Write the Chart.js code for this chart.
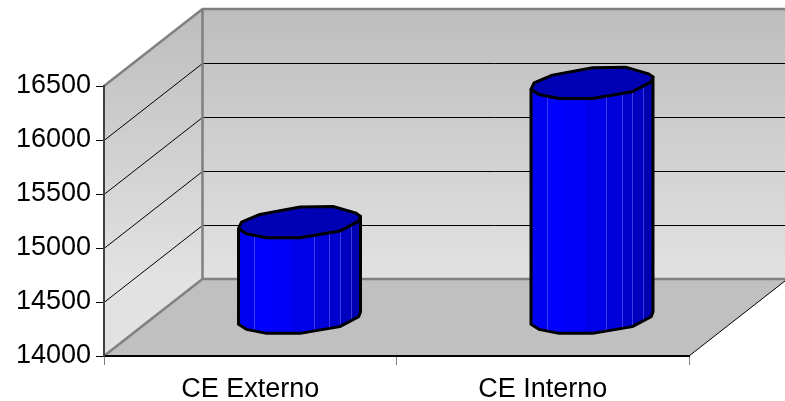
<!DOCTYPE html>
<html>
<head>
<meta charset="utf-8">
<style>
  html, body { margin: 0; padding: 0; background: #fff; }
  canvas { display: block; }
</style>
<script src="https://cdn.jsdelivr.net/npm/chart.js@4/dist/chart.umd.min.js"></script>
</head>
<body>
<canvas id="chart" width="785" height="401"></canvas>
<script>
const categories = ['CE Externo', 'CE Interno'];
const values = [14880, 16170];
const axisMin = 14000;
const axisMax = 16500;
const axisStep = 500;

// box depth of the fake 3D plot
const DEPTH_X = 98.5;
const DEPTH_Y = -77;
const TOP_HALF = 16;

// outline of the cylinder cap, in fractions of half width / half height
const capOutline = [
  [-1, 0.39], [-0.95, -0.02], [-0.65, -0.5], [0.01, -0.96], [0.55, -1], [0.93, -0.58],
  [1, -0.38], [0.97, -0.08], [0.66, 0.54], [0.01, 0.96], [-0.54, 0.96], [-0.87, 0.71]
];
// side facets: right edge in fractions of the bar width, and colour
const facets = [
  [0.13, '#0000f0'], [0.28, '#0000ff'], [0.45, '#0000f6'], [0.62, '#0000e8'],
  [0.75, '#0000d8'], [0.83, '#0000cc'], [0.92, '#0000c0'], [1, '#0000b0']
];

const wallsPlugin = {
  id: 'walls',
  beforeDraw(chart) {
    const { ctx, scales: { x, y } } = chart;
    const l = x.left, r = x.right, b = y.bottom, t = y.top;
    const g = ctx.createLinearGradient(0, t + DEPTH_Y, 0, b + DEPTH_Y);
    g.addColorStop(0, '#bdbdbd');
    g.addColorStop(1, '#e2e2e2');
    ctx.save();

    // floor
    ctx.fillStyle = '#c0c0c0';
    ctx.beginPath();
    ctx.moveTo(l, b);
    ctx.lineTo(l + DEPTH_X, b + DEPTH_Y);
    ctx.lineTo(r + DEPTH_X, b + DEPTH_Y);
    ctx.lineTo(r, b);
    ctx.closePath();
    ctx.fill();

    // back wall and side wall
    ctx.fillStyle = g;
    ctx.fillRect(l + DEPTH_X, t + DEPTH_Y, r - l, b - t);
    ctx.beginPath();
    ctx.moveTo(l, b);
    ctx.lineTo(l, t);
    ctx.lineTo(l + DEPTH_X, t + DEPTH_Y);
    ctx.lineTo(l + DEPTH_X, b + DEPTH_Y);
    ctx.closePath();
    ctx.fill();

    // gridlines on both walls
    ctx.strokeStyle = '#000';
    ctx.lineWidth = 1;
    y.ticks.forEach(tick => {
      if (tick.value === axisMin || tick.value === axisMax) return;
      const py = Math.round(y.getPixelForValue(tick.value)) + 0.5;
      ctx.beginPath();
      ctx.moveTo(l, py);
      ctx.lineTo(l + DEPTH_X, py + DEPTH_Y);
      ctx.lineTo(r + DEPTH_X, py + DEPTH_Y);
      ctx.stroke();
    });

    // wall borders
    ctx.strokeStyle = '#808080';
    ctx.lineWidth = 2.5;
    ctx.beginPath();
    ctx.moveTo(l + DEPTH_X, b + DEPTH_Y);
    ctx.lineTo(l + DEPTH_X, t + DEPTH_Y);
    ctx.moveTo(r + DEPTH_X, t + DEPTH_Y);
    ctx.lineTo(l + DEPTH_X, t + DEPTH_Y);
    ctx.lineTo(l, t);
    ctx.moveTo(r + DEPTH_X, b + DEPTH_Y);
    ctx.lineTo(l + DEPTH_X, b + DEPTH_Y);
    ctx.lineTo(l, b);
    ctx.stroke();

    // front right edge of the floor
    ctx.strokeStyle = '#000';
    ctx.lineWidth = 1;
    ctx.beginPath();
    ctx.moveTo(r, b);
    ctx.lineTo(r + DEPTH_X, b + DEPTH_Y);
    ctx.stroke();
    ctx.restore();
  },
  beforeDatasetDraw(chart, args) {
    const ctx = chart.ctx;
    args.meta.data.forEach(bar => {
      drawCylinder(ctx, bar.x + DEPTH_X / 2, bar.y + DEPTH_Y / 2, bar.base + DEPTH_Y / 2, bar.width);
    });
    return false;
  }
};

function drawCylinder(ctx, cx, top, base, width) {
  const hw = width / 2;
  const left = cx - hw;
  const cap = capOutline.map(p => [cx + p[0] * hw, p[1] * TOP_HALF]);
  // front run of the outline, from the right edge round to the left edge
  const front = [cap[6], cap[7], cap[8], cap[9], cap[10], cap[11], cap[0]];
  const height = base - top;

  const bodyPath = () => {
    ctx.beginPath();
    ctx.moveTo(cap[6][0], top + cap[6][1]);
    front.forEach(p => ctx.lineTo(p[0], base + 1 + p[1]));
    ctx.lineTo(cap[0][0], top + cap[0][1]);
    ctx.closePath();
  };

  ctx.save();
  ctx.lineJoin = 'round';

  // side facets with the thin light seams
  ctx.save();
  bodyPath();
  ctx.clip();
  let from = 0;
  facets.forEach(f => {
    ctx.fillStyle = f[1];
    ctx.fillRect(left + from * width, top - TOP_HALF, (f[0] - from) * width + 1, height + TOP_HALF * 2);
    from = f[0];
  });
  ctx.strokeStyle = 'rgba(110,110,255,0.55)';
  ctx.lineWidth = 1;
  [0.13, 0.615, 0.745, 0.83, 0.92].forEach(s => {
    const sx = Math.round(left + s * width) + 0.5;
    ctx.beginPath();
    ctx.moveTo(sx, top - TOP_HALF);
    ctx.lineTo(sx, base + TOP_HALF);
    ctx.stroke();
  });
  ctx.restore();

  ctx.strokeStyle = '#000';
  ctx.lineWidth = 3;
  bodyPath();
  ctx.stroke();

  // top cap
  ctx.fillStyle = '#0000b4';
  ctx.beginPath();
  cap.forEach((p, i) => {
    if (i === 0) ctx.moveTo(p[0], top + p[1]);
    else ctx.lineTo(p[0], top + p[1]);
  });
  ctx.closePath();
  ctx.fill();
  ctx.stroke();
  ctx.restore();
}

new Chart(document.getElementById('chart'), {
  type: 'bar',
  data: {
    labels: categories,
    datasets: [{
      data: values,
      base: axisMin,
      backgroundColor: '#0000ff',
      barPercentage: 0.417,
      categoryPercentage: 1
    }]
  },
  options: {
    responsive: false,
    animation: false,
    layout: { padding: { top: 86, right: 96, bottom: 0, left: 0 } },
    plugins: { legend: { display: false }, tooltip: { enabled: false } },
    scales: {
      x: {
        afterFit: s => { s.height = 45; },
        grid: { drawOnChartArea: false, color: '#808080', tickLength: 9 },
        border: { color: '#000', width: 2 },
        ticks: { color: '#000', font: { family: 'Liberation Sans', size: 27 }, padding: 8, maxRotation: 0 }
      },
      y: {
        min: axisMin,
        max: axisMax,
        afterFit: s => { s.width = 104; },
        grid: { drawOnChartArea: false, color: '#000', tickLength: 8 },
        border: { color: '#404040', width: 2 },
        ticks: {
          stepSize: axisStep,
          color: '#000',
          font: { family: 'Liberation Sans', size: 27 },
          padding: 5,
          callback: v => String(v)
        }
      }
    }
  },
  plugins: [wallsPlugin]
});
</script>
</body>
</html>
